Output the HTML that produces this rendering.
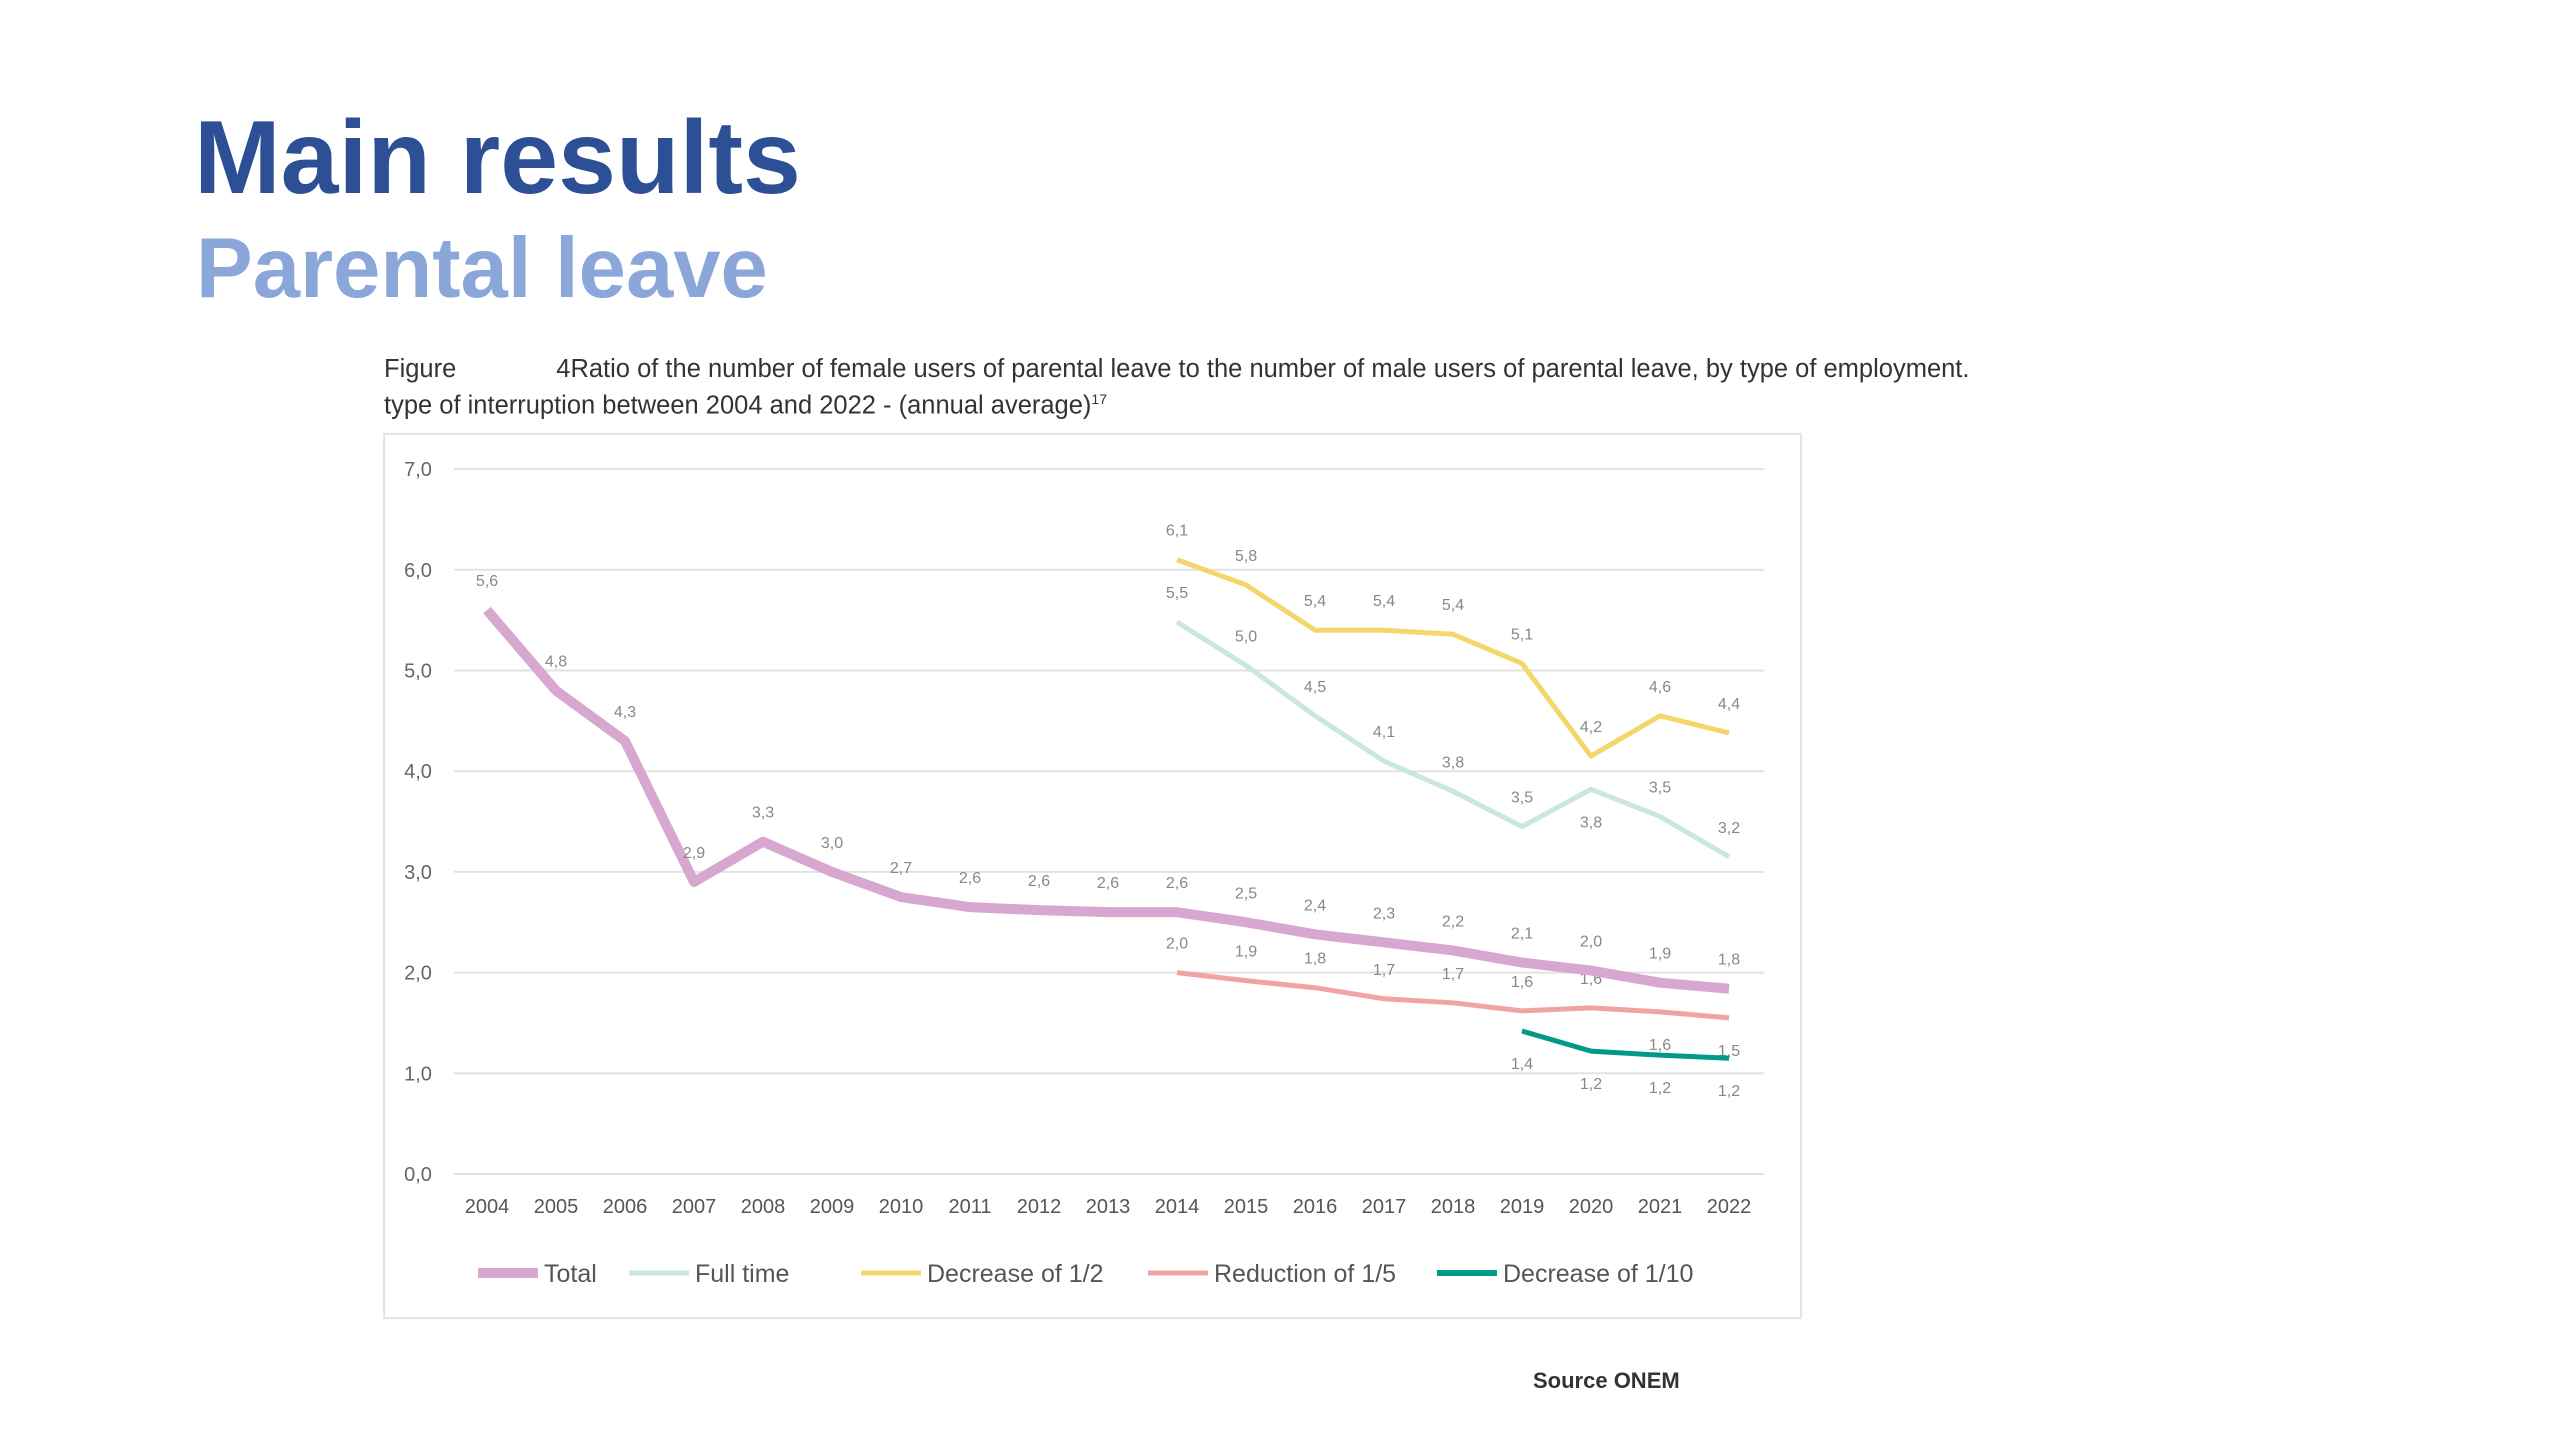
<!DOCTYPE html>
<html><head><meta charset="utf-8"><style>
body{margin:0;width:2560px;height:1440px;background:#fff;overflow:hidden;font-family:"Liberation Sans",sans-serif;position:relative}
.t1{position:absolute;left:194px;top:106px;font-size:104px;font-weight:bold;color:#2d4f95;margin:0;line-height:1}
.t2{position:absolute;left:196px;top:226px;font-size:85px;font-weight:bold;color:#8ba7da;margin:0;line-height:1}
.cap{position:absolute;left:384px;font-size:25.5px;color:#333;white-space:nowrap}
svg{position:absolute;left:0;top:0}
</style></head><body>
<h1 class="t1">Main results</h1>
<h2 class="t2">Parental leave</h2>
<div class="cap" style="top:355px">Figure<span style="display:inline-block;width:100px"></span>4Ratio of the number of female users of parental leave to the number of male users of parental leave, by type of employment.</div>
<div class="cap" style="top:391px">type of interruption between 2004 and 2022 - (annual average)<sup style="font-size:14px">17</sup></div>
<div style="position:absolute;left:1533px;top:1368px;font-size:22px;font-weight:bold;color:#333">Source ONEM</div>
<svg id="chart" width="2560" height="1440"></svg>
<script>
const years=[2004,2005,2006,2007,2008,2009,2010,2011,2012,2013,2014,2015,2016,2017,2018,2019,2020,2021,2022];
const yTicks=["0,0","1,0","2,0","3,0","4,0","5,0","6,0","7,0"];
const totalVals=[5.6,4.8,4.3,2.9,3.3,3.0,2.75,2.65,2.62,2.6,2.6,2.5,2.38,2.3,2.22,2.1,2.02,1.9,1.84];
const totalLbl=["5,6","4,8","4,3","2,9","3,3","3,0","2,7","2,6","2,6","2,6","2,6","2,5","2,4","2,3","2,2","2,1","2,0","1,9","1,8"];
const fullVals=[null,null,null,null,null,null,null,null,null,null,5.48,5.05,4.55,4.1,3.8,3.45,3.82,3.55,3.15];
const fullLbl=["","","","","","","","","","","5,5","5,0","4,5","4,1","3,8","3,5","3,8","3,5","3,2"];
const halfVals=[null,null,null,null,null,null,null,null,null,null,6.1,5.85,5.4,5.4,5.36,5.07,4.15,4.55,4.38];
const halfLbl=["","","","","","","","","","","6,1","5,8","5,4","5,4","5,4","5,1","4,2","4,6","4,4"];
const fifthVals=[null,null,null,null,null,null,null,null,null,null,2.0,1.92,1.85,1.74,1.7,1.62,1.65,1.61,1.55];
const fifthLbl=["","","","","","","","","","","2,0","1,9","1,8","1,7","1,7","1,6","1,6","1,6","1,5"];
const tenthVals=[null,null,null,null,null,null,null,null,null,null,null,null,null,null,null,1.42,1.22,1.18,1.15];
const tenthLbl=["","","","","","","","","","","","","","","","1,4","1,2","1,2","1,2"];
const NS="http://www.w3.org/2000/svg",svg=document.getElementById('chart');
const X0=487,XS=69,Y0=1174,YS=100.7;
const xS=i=>X0+i*XS, yS=v=>Y0-v*YS;
function mk(t,a,p){const e=document.createElementNS(NS,t);for(const k in a)e.setAttribute(k,a[k]);(p||svg).appendChild(e);return e;}
const frame=mk('rect',{x:384,y:434,width:1417,height:884,fill:'none',stroke:'#e4e4e4','stroke-width':2});


yTicks.forEach((t,i)=>{
 const g=mk('line',{x1:454,x2:1764,y1:yS(i),y2:yS(i),stroke:'#e2e2e2','stroke-width':2});
 
 
 const l=mk('text',{x:418,y:yS(i)+7,'text-anchor':'middle','font-size':20,fill:'#666'});l.textContent=t;
 
 
});
years.forEach((y,i)=>{const l=mk('text',{x:xS(i),y:1213,'text-anchor':'middle','font-size':20,fill:'#555'});l.textContent=y;
 
 });
function series(vals,lbls,color,w,name,below){
 let d='';vals.forEach((v,i)=>{if(v==null)return;d+=(d?'L':'M')+xS(i)+','+yS(v);});
 const p=mk('path',{d:d,fill:'none',stroke:color,'stroke-width':w,'stroke-linejoin':'round'});
 
 
 vals.forEach((v,i)=>{if(v==null)return;const b=below(i);
  const t=mk('text',{x:xS(i),y:yS(v)+(b?38:-24),'text-anchor':'middle','font-size':16,fill:'#888'});t.textContent=lbls[i];
  
  });
}
series(fullVals,fullLbl,'#c9e7dd',5,'full-time',i=>i==16);
series(halfVals,halfLbl,'#f5d66c',5,'decrease-half',i=>false);
series(fifthVals,fifthLbl,'#f0a3a3',5,'reduction-fifth',i=>i>=17);
series(tenthVals,tenthLbl,'#009a88',5,'decrease-tenth',i=>true);
series(totalVals,totalLbl,'#d8a7d0',10,'total',i=>false);
const leg=[['Total','#d8a7d0',478,10],['Full time','#c9e7dd',629,5],['Decrease of 1/2','#f5d66c',861,5],['Reduction of 1/5','#f0a3a3',1148,5],['Decrease of 1/10','#009a88',1437,6]];
leg.forEach(l=>{const g=mk('g',{});
 
 
 mk('line',{x1:l[2],x2:l[2]+60,y1:1273,y2:1273,stroke:l[1],'stroke-width':l[3]},g);
 const t=mk('text',{x:l[2]+66,y:1282,'font-size':25,fill:'#555'},g);t.textContent=l[0];});
</script>
</body></html>
